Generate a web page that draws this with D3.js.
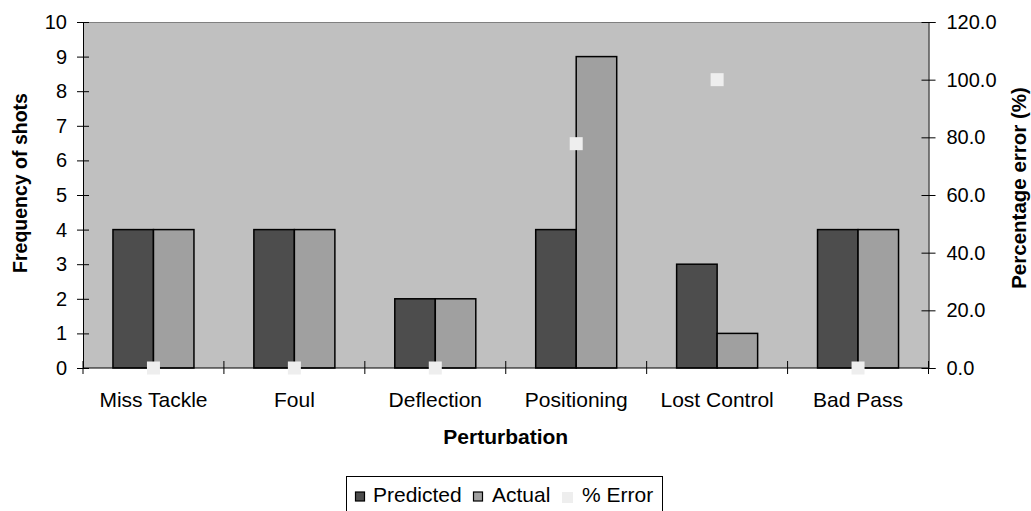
<!DOCTYPE html>
<html><head><meta charset="utf-8">
<script src="https://cdn.jsdelivr.net/npm/d3@7"></script>
<style>body{margin:0;background:#fff;} svg{display:block;font-family:Arial,"Liberation Sans",sans-serif;}</style>
</head><body>
<script>
const categories = ["Miss Tackle","Foul","Deflection","Positioning","Lost Control","Bad Pass"];
const predicted = [4,4,2,4,3,4];
const actual = [4,4,2,9,1,4];
const pctError = [0,0,0,77.8,100,0];
const leftTicks = [0,1,2,3,4,5,6,7,8,9,10];
const rightTicks = [0,20,40,60,80,100,120];

const W=1031,H=511;
const m={l:83,r:928.5,t:22,b:368};
const FONT="Arial, 'Liberation Sans', sans-serif";
const svg=d3.select("body").append("svg").attr("width",W).attr("height",H);

const x=d3.scaleBand().domain(categories).range([m.l,m.r]).paddingInner(0).paddingOuter(0);
const yL=d3.scaleLinear().domain([0,10]).range([m.b,m.t]);
const yR=d3.scaleLinear().domain([0,120]).range([m.b,m.t]);
const barW=40.5;

svg.append("rect").attr("x",m.l).attr("y",m.t).attr("width",m.r-m.l).attr("height",m.b-m.t).attr("fill","#c0c0c0");
svg.append("line").attr("x1",m.l).attr("x2",m.r).attr("y1",m.t+0.5).attr("y2",m.t+0.5).attr("stroke","#808080");

const g=svg.append("g");
g.selectAll(".p").data(categories).join("rect")
 .attr("x",d=>x(d)+x.bandwidth()/2-barW).attr("y",(d,i)=>yL(predicted[i]))
 .attr("width",barW).attr("height",(d,i)=>yL(0)-yL(predicted[i]))
 .attr("fill","#4d4d4d").attr("stroke","#000").attr("stroke-width",1.5);
g.selectAll(".a").data(categories).join("rect")
 .attr("x",d=>x(d)+x.bandwidth()/2).attr("y",(d,i)=>yL(actual[i]))
 .attr("width",barW).attr("height",(d,i)=>yL(0)-yL(actual[i]))
 .attr("fill","#a0a0a0").attr("stroke","#000").attr("stroke-width",1.5);

// axes
const axL=svg.append("g").attr("transform",`translate(${m.l},0)`)
 .call(d3.axisLeft(yL).tickValues(leftTicks).tickSize(6).tickFormat(d3.format("d")));
const axR=svg.append("g").attr("transform",`translate(${m.r},0)`)
 .call(d3.axisRight(yR).tickValues(rightTicks).tickSize(7).tickFormat(d3.format(".1f")));
const axB=svg.append("g").attr("transform",`translate(0,${m.b})`)
 .call(d3.axisBottom(x).tickSize(0));
[axL,axR,axB].forEach(a=>{a.select(".domain").attr("stroke","#000").attr("stroke-width",1);
 a.selectAll("text").attr("font-size",20).attr("fill","#000").attr("font-family",FONT);
 a.selectAll("line").attr("stroke","#000");});
axL.selectAll(".tick line").attr("x2",-6).attr("x1",6);
axR.selectAll(".tick line").attr("x1",-7).attr("x2",7);
axL.selectAll("text").attr("x",-16);
axR.selectAll("text").attr("x",18);
axB.selectAll("text").attr("font-size",21).attr("dy",0).attr("y",38.7);
axB.select(".domain").attr("d",`M${m.l},0H${m.r}`);
// boundary ticks on x axis
const bounds=categories.map(c=>x(c)).concat([m.r]);
axB.selectAll(".bt").data(bounds).join("line").attr("x1",d=>d).attr("x2",d=>d).attr("y1",-7).attr("y2",6).attr("stroke","#000");

// % error markers
svg.selectAll(".e").data(categories).join("rect")
 .attr("x",d=>x(d)+x.bandwidth()/2-6.5).attr("y",(d,i)=>yR(pctError[i])-6.5)
 .attr("width",13).attr("height",13).attr("fill","#eeeeee");

// titles
svg.append("text").attr("transform","translate(27,183) rotate(-90)").attr("text-anchor","middle")
 .attr("font-weight","bold").attr("font-size",19.5).attr("font-family",FONT).text("Frequency of shots");
svg.append("text").attr("transform","translate(1026,188) rotate(-90)").attr("text-anchor","middle")
 .attr("font-weight","bold").attr("font-size",20.5).attr("font-family",FONT).text("Percentage error (%)");
svg.append("text").attr("x",(m.l+m.r)/2).attr("y",444).attr("text-anchor","middle")
 .attr("font-weight","bold").attr("font-size",21).attr("font-family",FONT).text("Perturbation");

// legend
const lg=svg.append("g");
lg.append("rect").attr("x",346.5).attr("y",476.5).attr("width",316).attr("height",40).attr("fill","#fff").attr("stroke","#000");
const items=[{t:"Predicted",c:"#4d4d4d",s:true,x:355.5,tx:373},{t:"Actual",c:"#a0a0a0",s:true,x:473.5,tx:492},{t:"% Error",c:"#eeeeee",s:false,x:562,tx:582}];
items.forEach(it=>{
 lg.append("rect").attr("x",it.x).attr("y",492).attr("width",it.s?9:11).attr("height",it.s?9:11).attr("fill",it.c).attr("stroke",it.s?"#000":"none").attr("stroke-width",1.2);
 lg.append("text").attr("x",it.tx).attr("y",501.7).attr("font-size",21).attr("font-family",FONT).text(it.t);
});
</script>
</body></html>
